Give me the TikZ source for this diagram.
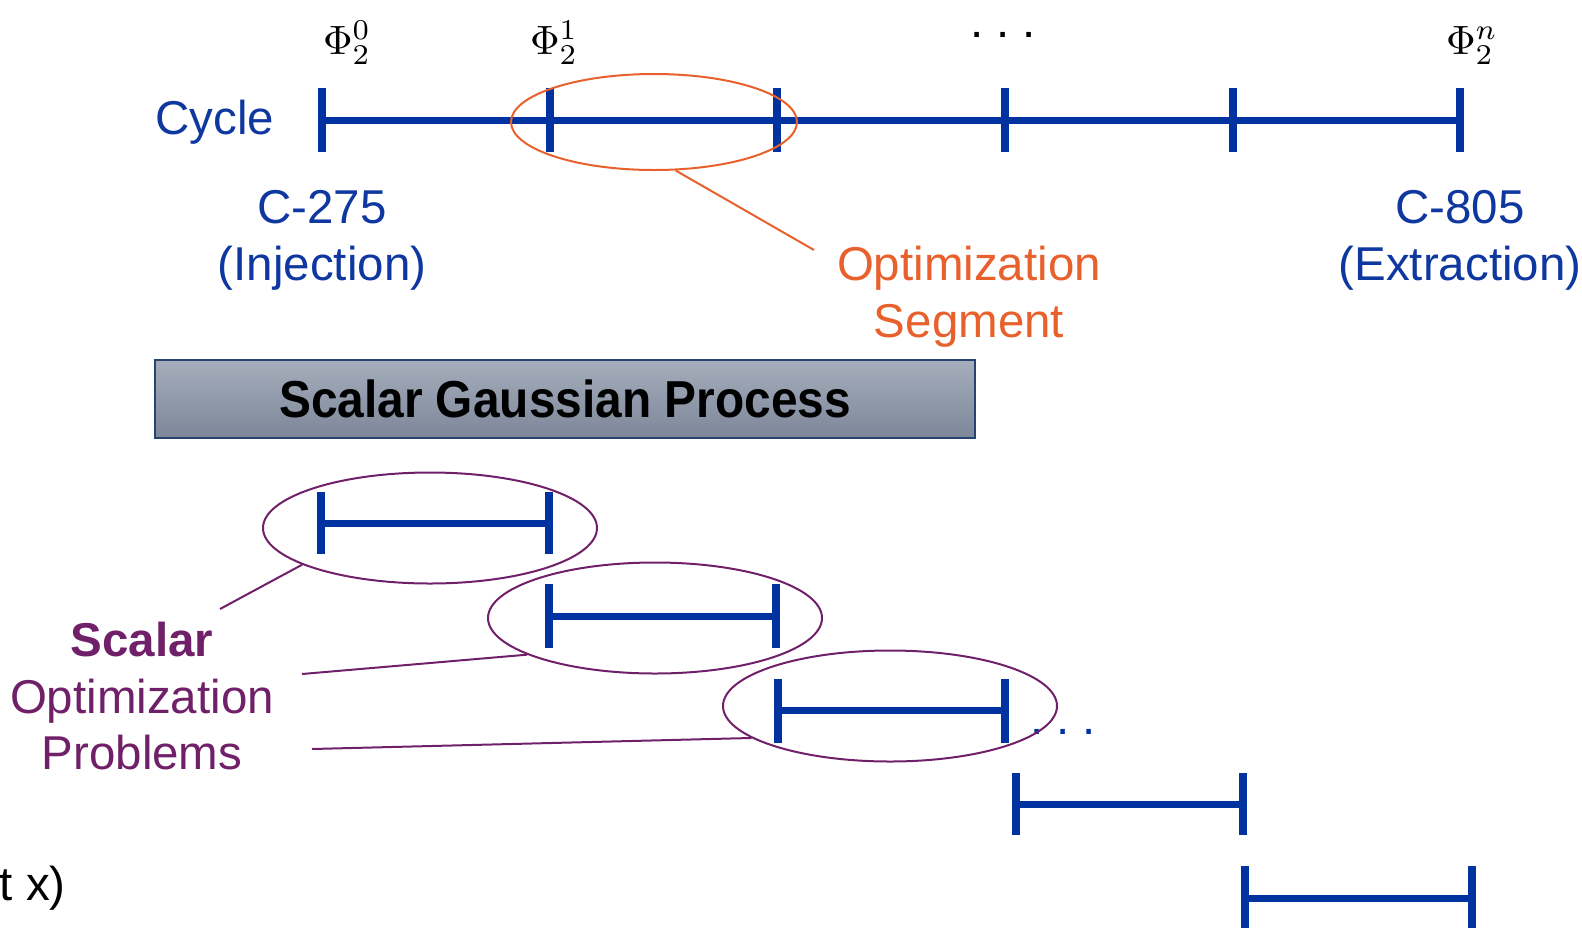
\documentclass[tikz,border=0pt]{standalone}
\usepackage[no-math]{fontspec}
\setmainfont{Liberation Sans}
\usetikzlibrary{shapes.geometric}
\definecolor{segblue}{RGB}{0,51,160}
\definecolor{txtblue}{RGB}{15,55,160}
\definecolor{segorange}{RGB}{232,96,44}
\definecolor{segpurple}{RGB}{112,32,104}
\definecolor{boxtop}{RGB}{166,174,188}
\definecolor{boxbot}{RGB}{124,135,153}
\definecolor{boxborder}{RGB}{38,68,110}
\tikzset{
  lbl/.style={font=\fontsize{47.5}{57}\selectfont, inner sep=0pt, anchor=base},
  phil/.style={inner sep=0pt, anchor=base},
  bar/.style={draw=segblue, line width=7pt},
  tick/.style={draw=segblue, line width=7.5pt},
  oell/.style={ellipse, draw=segorange, line width=2pt, inner sep=0pt, minimum width=286pt, minimum height=96pt},
  pell/.style={ellipse, draw=segpurple, line width=2pt, inner sep=0pt, minimum width=334pt, minimum height=111pt},
  olink/.style={draw=segorange, line width=2pt},
  plink/.style={draw=segpurple, line width=2pt}
}
\begin{document}
\begin{tikzpicture}[x=1pt,y=-1pt]
\useasboundingbox (0,0) rectangle (1582,930);
% top cycle axis
\draw[bar] (322,120) -- (1460,120);
\foreach \x in {322,550,777,1005,1233,1460}{
  \draw[tick] (\x,88) -- (\x,152);
}
% phi labels
\node[phil] (phi0) at (347,54) {\scalebox{4.1}{$\Phi_2^0$}};
\node[phil] (phi1) at (554,54) {\scalebox{4.1}{$\Phi_2^1$}};
\node[lbl, text=black] (tdots) at (1003,37) {.\ .\ .};
\node[phil] (phin) at (1472,54) {\scalebox{4.1}{$\Phi_2^n$}};
% labels
\node[lbl, text=txtblue] (cycle) at (215,134) {Cycle};
\node[lbl, text=txtblue] (c275) at (322,223) {C-275};
\node[lbl, text=txtblue] (inj) at (322,280) {(Injection)};
\node[lbl, text=txtblue] (c805) at (1460,223) {C-805};
\node[lbl, text=txtblue] (ext) at (1460,280) {(Extraction)};
\node[lbl, text=segorange] (opt1) at (969,280) {Optimization};
\node[lbl, text=segorange] (opt2) at (969,337) {Segment};
% orange ellipse and link
\node[oell] (oseg) at (654,122) {};
\coordinate (olinkend) at (814,250);
\draw[olink] (oseg.-66) -- (olinkend);
% Gaussian process box
\node[draw=boxborder, line width=1.2pt, top color=boxtop, bottom color=boxbot,
      minimum width=820pt, minimum height=78pt, inner sep=0pt,
      font=\fontsize{52}{60}\selectfont\bfseries] (gp) at (565,399)
      {\scalebox{0.92}[1]{Scalar Gaussian Process}};
% bottom segments
\draw[bar] (321,523) -- (549,523);
\draw[tick] (321,492) -- (321,554);
\draw[tick] (549,492) -- (549,554);
\draw[bar] (549,616) -- (776,616);
\draw[tick] (549,584) -- (549,648);
\draw[tick] (776,584) -- (776,648);
\draw[bar] (778,710) -- (1005,710);
\draw[tick] (778,679) -- (778,743);
\draw[tick] (1005,679) -- (1005,743);
\draw[bar] (1016,804) -- (1243,804);
\draw[tick] (1016,773) -- (1016,835);
\draw[tick] (1243,773) -- (1243,835);
\draw[bar] (1245,898) -- (1472,898);
\draw[tick] (1245,866) -- (1245,928);
\draw[tick] (1472,866) -- (1472,928);
\node[lbl, text=segblue] (bdots) at (1063,734) {.\ .\ .};
% purple ellipses
\node[pell] (e1) at (430,528) {};
\node[pell] (e2) at (655,618) {};
\node[pell] (e3) at (890,706) {};
% scalar optimization problems label
\node[lbl, text=segpurple, font=\fontsize{47.5}{57}\selectfont\bfseries] (sc) at (142,656) {Scalar};
\node[lbl, text=segpurple] (so) at (142,713) {Optimization};
\node[lbl, text=segpurple] (sp) at (142,769) {Problems};
\coordinate (p1) at (220,609);
\coordinate (p2) at (302,674);
\coordinate (p3) at (312,749);
\draw[plink] (p1) -- (e1.196);
\draw[plink] (p2) -- (e2.196);
\draw[plink] (p3) -- (e3.193);
% clipped text at bottom left
\node[lbl, anchor=base east, text=black] (tx) at (66,900) {t x)};
\end{tikzpicture}
\end{document}
